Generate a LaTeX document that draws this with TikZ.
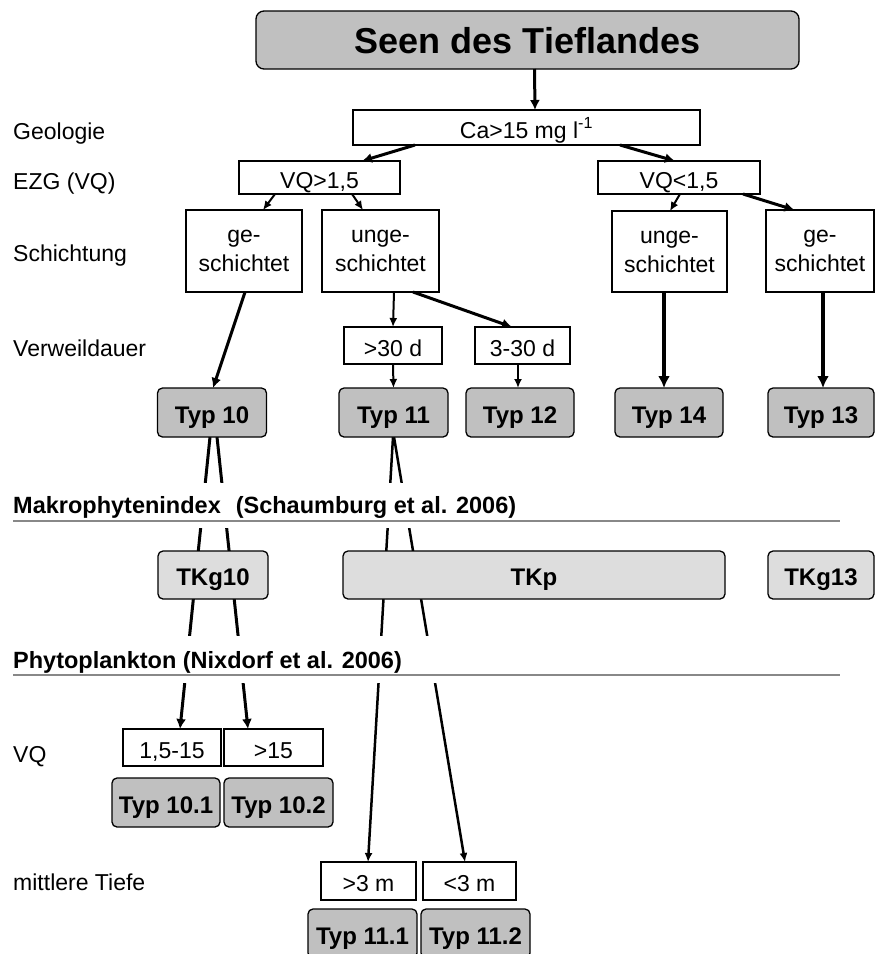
\documentclass[tikz,border=0pt]{standalone}
\usepackage{fontspec}
\setmainfont{Liberation Sans}
\usetikzlibrary{arrows.meta,backgrounds}

\definecolor{typgray}{RGB}{192,192,192}
\definecolor{tkgray}{RGB}{221,221,221}
\definecolor{rulegray}{RGB}{136,136,136}
\newcommand\lbfont{\fontsize{23}{29}\selectfont}
\newcommand\bdfont{\fontsize{24}{29}\selectfont\bfseries}

\tikzset{
  sz/.style n args={2}{minimum width=#1pt, minimum height=#2pt},
  frame/.style={draw, fill=white, line width=1.3pt, inner sep=0pt, outer sep=0pt,
    align=center, font=\lbfont},
  box/.style={frame, text height=21pt, text depth=0pt},
  typbox/.style={box, fill=typgray, rounded corners=5pt, font=\bdfont},
  tkbox/.style={typbox, fill=tkgray},
  lbl/.style={anchor=base west, inner sep=0pt, font=\lbfont},
  hd/.style={lbl, font=\fontsize{23.5}{29}\selectfont\bfseries},
  sepline/.style={draw=rulegray, line width=1.5pt},
  arr/.style={-{Latex[length=9pt,width=8pt]}, line width=2pt},
  arrt/.style={-{Latex[length=10pt,width=10pt]}, line width=3pt},
  arrh/.style={-{Latex[length=12pt,width=12pt]}, line width=4.5pt},
}

\begin{document}
\begin{tikzpicture}[x=1pt,y=-1pt]
  \useasboundingbox (0,0) rectangle (876,954);

  % row labels
  \foreach \n/\y/\t in {geo/139/Geologie, ezg/189/EZG (VQ), sch/261/Schichtung,
                        vwd/356/Verweildauer, vq/762/VQ, tief/890/mittlere Tiefe} {
    \node[lbl] (\n) at (13,\y) {\t};
  }

  % top of the key
  \node[box, fill=typgray, rounded corners=8pt, sz={543}{58}, text height=26pt, text depth=0pt,
        font=\fontsize{36}{40}\selectfont\bfseries] (top) at (527.5,40) {Seen des Tieflandes};
  \node[box, sz={347}{35}] (ca) at (526.5,127.5) {Ca>15 mg l\textsuperscript{-1}};
  \node[box, sz={161}{33}] (vqa) at (319.5,177.5) {VQ>1,5};
  \node[box, sz={162}{33}] (vqb) at (679,177.5) {VQ<1,5};

  \node[frame, sz={116}{82}] (gsa) at (244,251) {ge-\\schichtet};
  \node[frame, sz={117}{82}] (usa) at (380.5,251) {unge-\\schichtet};
  \node[frame, sz={115}{81}] (usb) at (669.5,251.5) {unge-\\schichtet};
  \node[frame, sz={108}{82}] (gsb) at (820,251) {ge-\\schichtet};

  \node[box, sz={98}{37}] (da) at (393,345.5) {>30 d};
  \node[box, sz={95}{37}] (db) at (522.5,345.5) {3-30 d};

  \node[typbox, sz={109}{49}] (t10) at (212,412.5) {Typ 10};
  \node[typbox, sz={109}{49}] (t11) at (393.5,412.5) {Typ 11};
  \node[typbox, sz={108}{49}] (t12) at (520,412.5) {Typ 12};
  \node[typbox, sz={108}{49}] (t14) at (669,412.5) {Typ 14};
  \node[typbox, sz={106}{49}] (t13) at (821,412.5) {Typ 13};

  % Makrophyten
  \node[tkbox, sz={110}{48}] (tk10) at (213,575) {TKg10};
  \node[tkbox, sz={382}{48}] (tkp) at (534,575) {TKp};
  \node[tkbox, sz={106}{48}] (tk13) at (821,575) {TKg13};

  % Phytoplankton
  \node[box, sz={98}{37}] (v1) at (172,747.5) {1,5-15};
  \node[box, sz={99}{37}] (v2) at (273.5,747.5) {>15};
  \node[typbox, sz={108}{49}] (t101) at (166,802.5) {Typ 10.1};
  \node[typbox, sz={109}{49}] (t102) at (278.5,802.5) {Typ 10.2};

  \node[box, sz={95}{38}] (m1) at (368.5,881) {>3 m};
  \node[box, sz={93}{38}] (m2) at (469.5,881) {<3 m};
  \node[typbox, sz={109}{49}] (t111) at (362.5,933.5) {Typ 11.1};
  \node[typbox, sz={109}{49}] (t112) at (475.5,933.5) {Typ 11.2};

  % arrows
  \draw[arrt] ([xshift=7pt]top.south) -- ([xshift=8.5pt]ca.north);
  \draw[arrt] ([xshift=-111.5pt]ca.south) -- ([xshift=42.5pt]vqa.north);
  \draw[arrt] ([xshift=93.5pt]ca.south) -- ([xshift=-4pt]vqb.north);
  \draw[arr] ([xshift=-44.5pt]vqa.south) -- ([xshift=19pt]gsa.north);
  \draw[arr] ([xshift=32.5pt]vqa.south) -- ([xshift=-17.5pt]usa.north);
  \draw[arr] ([xshift=1pt]vqb.south) -- ([xshift=0.5pt]usb.north);
  \draw[arrt] ([xshift=64pt]vqb.south) -- ([xshift=-25.5pt]gsb.north);
  \draw[arrt] ([xshift=1pt]gsa.south) -- ([xshift=1pt]t10.north);
  \draw[arr] ([xshift=13.5pt]usa.south) -- (da.north);
  \draw[arrt] ([xshift=32.5pt]usa.south) -- ([xshift=-10.5pt]db.north);
  \draw[arr] (da.south) -- (t11.north);
  \draw[arr] ([xshift=-4.5pt]db.south) -- ([xshift=-2pt]t12.north);
  \draw[arrh] ([xshift=-5.5pt]usb.south) -- ([xshift=-5pt]t14.north);
  \draw[arrh] ([xshift=3pt]gsb.south) -- ([xshift=2pt]t13.north);

  \begin{pgfonlayer}{background}
    \draw[arrt] ([xshift=-2pt]t10.south) -- ([xshift=8pt]v1.north);
    \draw[arrt] ([xshift=5pt]t10.south) -- ([xshift=-25.5pt]v2.north);
    \draw[arr, line width=2.5pt] ([xshift=-0.5pt]t11.south) -- ([xshift=-0.5pt]m1.north);
    \draw[arr, line width=2.5pt] ([xshift=0.5pt]t11.south) -- ([xshift=-4.5pt]m2.north);
  \end{pgfonlayer}

  % bands
  \fill[white] (0,483) rectangle (876,528);
  \fill[white] (0,636) rectangle (876,683);
  \node[hd] (mak) at (13,513) {Makrophytenindex\hspace{15pt}(Schaumburg et al. 2006)};
  \draw[sepline] (13,521) -- (840,521);
  \node[hd] (phy) at (13,668) {Phytoplankton (Nixdorf et al. 2006)};
  \draw[sepline] (13,675) -- (840,675);
\end{tikzpicture}
\end{document}
